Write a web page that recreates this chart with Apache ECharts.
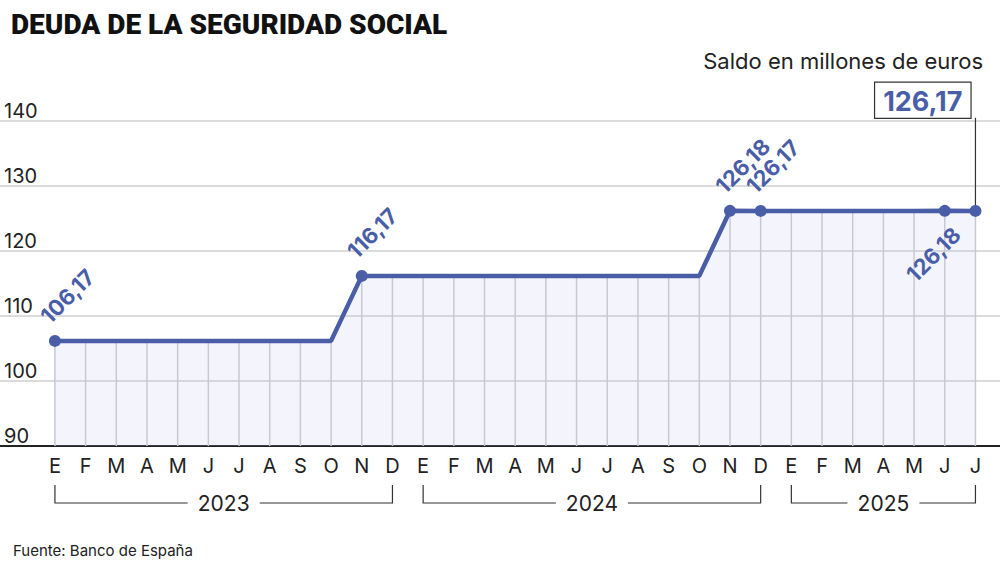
<!DOCTYPE html>
<html><head><meta charset="utf-8">
<script src="https://cdn.jsdelivr.net/npm/echarts@6/dist/echarts.min.js"></script>
<style>html,body{margin:0;padding:0;background:#fff}#c{width:1000px;height:567px}</style>
</head><body><div id="c"></div>
<script>
var months = ['E','F','M','A','M','J','J','A','S','O','N','D','E','F','M','A','M','J','J','A','S','O','N','D','E','F','M','A','M','J','J'];
var values = [106.17,106.17,106.17,106.17,106.17,106.17,106.17,106.17,106.17,106.17,116.17,116.17,
  116.17,116.17,116.17,116.17,116.17,116.17,116.17,116.17,116.17,116.17,126.18,126.17,
  126.17,126.17,126.17,126.17,126.17,126.18,126.17];
var years = [{name:'2023', from:0, to:11},{name:'2024', from:12, to:23},{name:'2025', from:24, to:30}];
var marked = {0:'up', 10:'up', 22:'up', 23:'up', 29:'down'};
var yTicks = [90,100,110,120,130,140];

var blue = '#4a5ea8';
var chart = echarts.init(document.getElementById('c'), null, {renderer:'svg'});
var idx = months.map(function(m, i){ return i; });
var fmt = function(v){ return v.toFixed(2).replace('.', ','); };

var lineData = values.map(function(v, i){
  var d = {value:[i, v], symbolSize: (i in marked || i === 30) ? 12 : 0};
  if (marked[i] === 'up') d.label = {show:true, formatter:fmt(v), position:'top', align:'left', rotate:45, offset:[0,-4]};
  if (marked[i] === 'down') d.label = {show:true, formatter:fmt(v), position:'bottom', align:'right', rotate:45, offset:[2,4]};
  return d;
});

chart.setOption({
  animation:false,
  title:[
    {text:'DEUDA DE LA SEGURIDAD SOCIAL', left:6, top:5, textStyle:{fontFamily:'Roboto', fontWeight:900, fontSize:28, color:'#111'}},
    {text:'Saldo en millones de euros', right:12, top:45, textStyle:{fontFamily:'Inter', fontWeight:'normal', fontSize:22, color:'#222'}},
    {text:'Fuente: Banco de España', left:8, top:538, textStyle:{fontFamily:'Inter', fontWeight:'normal', fontSize:15, color:'#222'}}
  ],
  grid:{left:0, right:0, top:121, bottom:121},
  xAxis:{type:'value', min:-1.79, max:30.8,
    axisLine:{show:true, onZero:false, lineStyle:{color:'#222', width:2}},
    axisTick:{show:false}, splitLine:{show:false},
    axisLabel:{customValues:idx, formatter:function(v){ return months[Math.round(v)]; }, margin:10,
      fontFamily:'Inter', fontSize:20, color:'#222'}},
  yAxis:{type:'value', min:90, max:140, interval:10,
    axisLine:{show:false}, axisTick:{show:false},
    splitLine:{lineStyle:{color:'#cfcfcf', width:1.5}},
    axisLabel:{inside:true, verticalAlign:'bottom', margin:4, fontFamily:'Inter', fontSize:20, color:'#222',
      formatter:function(v){ return yTicks.indexOf(v) >= 0 ? v : ''; }}},
  series:[
    {type:'bar', data:values.map(function(v,i){return [i,v];}), barWidth:1.5, itemStyle:{color:'#c9c9d3'}, z:1, silent:true},
    {type:'line', data:lineData, symbol:'circle', itemStyle:{color:blue}, lineStyle:{color:blue, width:4.5},
      areaStyle:{color:'rgba(190,196,240,0.25)', origin:'start'},
      label:{color:blue, fontFamily:'Inter', fontWeight:'bold', fontSize:22}, z:3}
  ]
});

var g = [];
// boxed last value with connector
var last = values.length - 1;
var p = chart.convertToPixel({xAxisIndex:0, yAxisIndex:0}, [last, values[last]]);
var boxBottom = chart.convertToPixel({xAxisIndex:0, yAxisIndex:0}, [last, 140.5])[1];
g.push({type:'line', shape:{x1:p[0], y1:p[1], x2:p[0], y2:boxBottom}, style:{stroke:'#333', lineWidth:1.2}});
g.push({type:'text', x:p[0] - 5, y:boxBottom, z:10, style:{text:fmt(values[last]), align:'right', verticalAlign:'bottom',
  font:'bold 27px Inter', fill:blue, backgroundColor:'#fff', borderColor:'#333', borderWidth:1.2, padding:[5,8,3,8]}});

// year brackets under the month labels
var yb = 503;
years.forEach(function(y){
  var x0 = chart.convertToPixel({xAxisIndex:0, yAxisIndex:0}, [y.from, 90])[0];
  var x1 = chart.convertToPixel({xAxisIndex:0, yAxisIndex:0}, [y.to, 90])[0];
  var mid = (x0 + x1) / 2, half = 36;
  var st = {stroke:'#333', lineWidth:1.2};
  g.push({type:'polyline', shape:{points:[[x0,yb-18],[x0,yb],[mid-half,yb]]}, style:st});
  g.push({type:'polyline', shape:{points:[[mid+half,yb],[x1,yb],[x1,yb-18]]}, style:st});
  g.push({type:'text', x:mid, y:yb, style:{text:y.name, align:'center', verticalAlign:'middle', font:'21px Inter', fill:'#222'}});
});
chart.setOption({graphic:g});
</script></body></html>
